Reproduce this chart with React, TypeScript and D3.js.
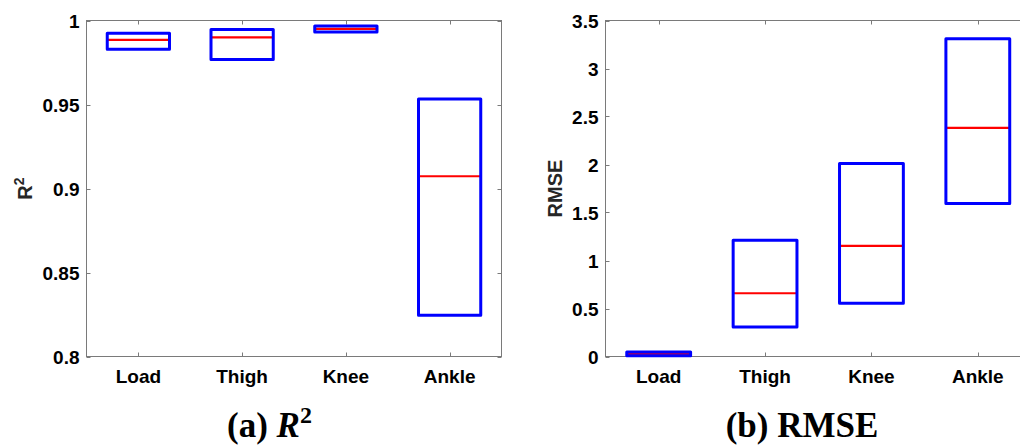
import React from 'react';
import * as d3 from 'd3';

const categories = ['Load', 'Thigh', 'Knee', 'Ankle'];

// R^2 box stats: [q1, median, q3]
const r2Q1 = [0.9829, 0.9768, 0.9932, 0.8246];
const r2Median = [0.9885, 0.9899, 0.995, 0.9073];
const r2Q3 = [0.9924, 0.9946, 0.9968, 0.9532];
const r2Ticks = [0.8, 0.85, 0.9, 0.95, 1];
const r2TickLabels = ['0.8', '0.85', '0.9', '0.95', '1'];

// RMSE box stats
const rmseQ1 = [0.008, 0.308, 0.555, 1.594];
const rmseMedian = [0.026, 0.659, 1.152, 2.381];
const rmseQ3 = [0.046, 1.211, 2.01, 3.31];
const rmseTicks = [0, 0.5, 1, 1.5, 2, 2.5, 3, 3.5];
const rmseTickLabels = ['0', '0.5', '1', '1.5', '2', '2.5', '3', '3.5'];

const W = 1020;
const H = 446;
const top = 20.5;
const bottom = 356.5;
const axisColor = '#7a7a7a';
const sans = "'Liberation Sans', Arial, sans-serif";
const serif = "'Liberation Serif', 'Times New Roman', serif";

interface PanelProps {
  left: number;
  right: number;
  domain: [number, number];
  q1: number[];
  med: number[];
  q3: number[];
  ticks: number[];
  tickLabels: string[];
  yLabel: React.ReactNode;
  yLabelX: number;
}

const Panel: React.FC<PanelProps> = ({ left, right, domain, q1, med, q3, ticks, tickLabels, yLabel, yLabelX }) => {
  const x = d3.scaleLinear().domain([0.5, categories.length + 0.5]).range([left, right]);
  const y = d3.scaleLinear().domain(domain).range([bottom, top]);
  const boxW = (x(1) - x(0)) * 0.6;
  const tl = 4;

  return (
    <g>
      {/* frame */}
      <rect x={left} y={top} width={right - left} height={bottom - top} fill="none" stroke={axisColor} strokeWidth={1} />
      {/* x ticks */}
      {categories.map((c, i) => (
        <g key={c}>
          <line x1={Math.round(x(i + 1)) + 0.5} x2={Math.round(x(i + 1)) + 0.5} y1={bottom} y2={bottom - tl} stroke={axisColor} />
          <line x1={Math.round(x(i + 1)) + 0.5} x2={Math.round(x(i + 1)) + 0.5} y1={top} y2={top + tl} stroke={axisColor} />
          <text x={x(i + 1)} y={383} textAnchor="middle" fontFamily={sans} fontWeight="bold" fontSize={19} fill="#000">{c}</text>
        </g>
      ))}
      {/* y ticks */}
      {ticks.map((t, i) => (
        <g key={t}>
          <line x1={left} x2={left + tl} y1={Math.round(y(t)) + 0.5} y2={Math.round(y(t)) + 0.5} stroke={axisColor} />
          <line x1={right} x2={right - tl} y1={Math.round(y(t)) + 0.5} y2={Math.round(y(t)) + 0.5} stroke={axisColor} />
          <text x={left - 7} y={y(t) + 7} textAnchor="end" fontFamily={sans} fontWeight="bold" fontSize={19} fill="#000">{tickLabels[i]}</text>
        </g>
      ))}
      {/* boxes */}
      {categories.map((c, i) => {
        const cx = x(i + 1);
        return (
          <g key={'b' + c}>
            <line x1={cx - boxW / 2} x2={cx + boxW / 2} y1={y(med[i])} y2={y(med[i])} stroke="#ff0000" strokeWidth={2.2} />
            <rect x={cx - boxW / 2} y={y(q3[i])} width={boxW} height={y(q1[i]) - y(q3[i])} fill="none" stroke="#0000ff" strokeWidth={3} strokeLinejoin="round" />
          </g>
        );
      })}
      {/* y label */}
      <text transform={`translate(${yLabelX},${(top + bottom) / 2}) rotate(-90)`} textAnchor="middle" fontFamily={sans} fontWeight="bold" fontSize={20} fill="#262626">{yLabel}</text>
    </g>
  );
};

export default function App() {
  return (
    <svg width={W} height={H} style={{ position: 'absolute', left: 0, top: 0, background: '#fff' }}>
      <rect width={W} height={H} fill="#fff" />
      <Panel
        left={86.5}
        right={501.5}
        domain={[0.8, 1]}
        q1={r2Q1}
        med={r2Median}
        q3={r2Q3}
        ticks={r2Ticks}
        tickLabels={r2TickLabels}
        yLabel={<>R<tspan fontSize={14} dy={-8}>2</tspan></>}
        yLabelX={32}
      />
      <Panel
        left={605.5}
        right={1031}
        domain={[0, 3.5]}
        q1={rmseQ1}
        med={rmseMedian}
        q3={rmseQ3}
        ticks={rmseTicks}
        tickLabels={rmseTickLabels}
        yLabel="RMSE"
        yLabelX={562}
      />
      <text x={227} y={437} fontFamily={serif} fontWeight="bold" fontSize={35} fill="#000">
        (a) <tspan fontStyle="italic">R</tspan><tspan fontSize={24} dy={-14}>2</tspan>
      </text>
      <text x={802} y={437} textAnchor="middle" fontFamily={serif} fontWeight="bold" fontSize={35} fill="#000">(b) RMSE</text>
    </svg>
  );
}
